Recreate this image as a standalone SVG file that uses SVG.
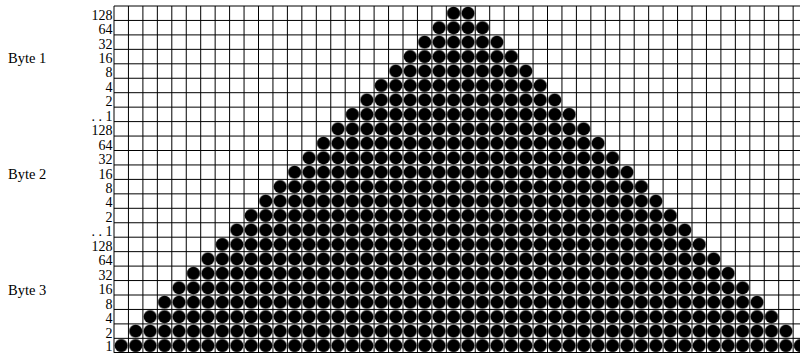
<svg xmlns="http://www.w3.org/2000/svg" width="800" height="353" viewBox="0 0 800 353">
<style>
text{font-family:"Liberation Serif","Times New Roman",serif;font-size:14.5px;fill:#000}
.bit{text-anchor:end;font-size:14px}
.grid{stroke:#000;stroke-width:1;fill:none}
</style>
<defs>
<pattern id="dot" patternUnits="userSpaceOnUse" x="114" y="6" width="14.45" height="14.45">
<circle cx="7.225" cy="7.225" r="6.6" fill="#000"/>
</pattern>
</defs>
<rect width="800" height="353" fill="#fff"/>
<g id="grid" class="grid">
<path d="M114 6V352.8M128.45 6V352.8M142.9 6V352.8M157.35 6V352.8M171.8 6V352.8M186.25 6V352.8M200.7 6V352.8M215.15 6V352.8M229.6 6V352.8M244.05 6V352.8M258.5 6V352.8M272.95 6V352.8M287.4 6V352.8M301.85 6V352.8M316.3 6V352.8M330.75 6V352.8M345.2 6V352.8M359.65 6V352.8M374.1 6V352.8M388.55 6V352.8M403 6V352.8M417.45 6V352.8M431.9 6V352.8M446.35 6V352.8M460.8 6V352.8M475.25 6V352.8M489.7 6V352.8M504.15 6V352.8M518.6 6V352.8M533.05 6V352.8M547.5 6V352.8M561.95 6V352.8M576.4 6V352.8M590.85 6V352.8M605.3 6V352.8M619.75 6V352.8M634.2 6V352.8M648.65 6V352.8M663.1 6V352.8M677.55 6V352.8M692 6V352.8M706.45 6V352.8M720.9 6V352.8M735.35 6V352.8M749.8 6V352.8M764.25 6V352.8M778.7 6V352.8M793.15 6V352.8"/>
<path d="M114 6H808M114 20.45H808M114 34.9H808M114 49.35H808M114 63.8H808M114 78.25H808M114 92.7H808M114 107.15H808M114 121.6H808M114 136.05H808M114 150.5H808M114 164.95H808M114 179.4H808M114 193.85H808M114 208.3H808M114 222.75H808M114 237.2H808M114 251.65H808M114 266.1H808M114 280.55H808M114 295H808M114 309.45H808M114 323.9H808M114 338.35H808M114 352.5H808"/>
</g>
<g id="dots">
<path fill="url(#dot)" d="M446.35 6H475.25V20.45H489.7V34.9H504.15V49.35H518.6V63.8H533.05V78.25H547.5V92.7H561.95V107.15H576.4V121.6H590.85V136.05H605.3V150.5H619.75V164.95H634.2V179.4H648.65V193.85H663.1V208.3H677.55V222.75H692V237.2H706.45V251.65H720.9V266.1H735.35V280.55H749.8V295H764.25V309.45H778.7V323.9H793.15V338.35H807.6V352.8H114V338.35H128.45V323.9H142.9V309.45H157.35V295H171.8V280.55H186.25V266.1H200.7V251.65H215.15V237.2H229.6V222.75H244.05V208.3H258.5V193.85H272.95V179.4H287.4V164.95H301.85V150.5H316.3V136.05H330.75V121.6H345.2V107.15H359.65V92.7H374.1V78.25H388.55V63.8H403V49.35H417.45V34.9H431.9V20.45H446.35Z"/>
</g>
<g id="byte-labels">
<text x="8" y="63.3">Byte 1</text>
<text x="8" y="178.9">Byte 2</text>
<text x="8" y="294.5">Byte 3</text>
</g>
<g id="bit-labels">
<text class="bit" x="112.5" y="19.6">128</text>
<text class="bit" x="112.5" y="34">64</text>
<text class="bit" x="112.5" y="48.5">32</text>
<text class="bit" x="112.5" y="62.9">16</text>
<text class="bit" x="112.5" y="77.4">8</text>
<text class="bit" x="112.5" y="91.8">4</text>
<text class="bit" x="112.5" y="106.3">2</text>
<text class="bit" x="112.5" y="120.7">. . 1</text>
<text class="bit" x="112.5" y="135.2">128</text>
<text class="bit" x="112.5" y="149.6">64</text>
<text class="bit" x="112.5" y="164.1">32</text>
<text class="bit" x="112.5" y="178.5">16</text>
<text class="bit" x="112.5" y="193">8</text>
<text class="bit" x="112.5" y="207.4">4</text>
<text class="bit" x="112.5" y="221.9">2</text>
<text class="bit" x="112.5" y="236.3">. . 1</text>
<text class="bit" x="112.5" y="250.8">128</text>
<text class="bit" x="112.5" y="265.2">64</text>
<text class="bit" x="112.5" y="279.7">32</text>
<text class="bit" x="112.5" y="294.1">16</text>
<text class="bit" x="112.5" y="308.6">8</text>
<text class="bit" x="112.5" y="323">4</text>
<text class="bit" x="112.5" y="337.5">2</text>
<text class="bit" x="112.5" y="351.2">1</text>
</g>
</svg>
